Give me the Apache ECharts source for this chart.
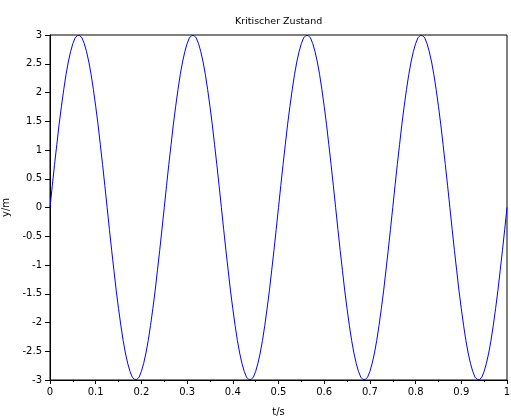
<!DOCTYPE html>
<html>
<head>
<meta charset="utf-8">
<script src="https://cdn.jsdelivr.net/npm/echarts@6/dist/echarts.min.js"></script>
<style>html,body{margin:0;padding:0;background:#fff;}#c{width:511px;height:418px;}</style>
</head>
<body>
<div id="c"></div>
<script>
const title = 'Kritischer Zustand';
const xName = 't/s';
const yName = 'y/m';
const T_START = 0;
const T_STEP = 0.005;
const yValues = [
  0, 0.38, 0.75, 1.10, 1.45, 1.76, 2.05, 2.31, 2.53, 2.71, 2.85, 2.95, 2.99, 2.99, 2.95, 2.85, 2.71, 2.53, 2.31, 2.05, 1.76, 1.45, 1.10, 0.75, 0.38,
  0, -0.38, -0.75, -1.10, -1.45, -1.76, -2.05, -2.31, -2.53, -2.71, -2.85, -2.95, -2.99, -2.99, -2.95, -2.85, -2.71, -2.53, -2.31, -2.05, -1.76, -1.45, -1.10, -0.75, -0.38,
  0, 0.38, 0.75, 1.10, 1.45, 1.76, 2.05, 2.31, 2.53, 2.71, 2.85, 2.95, 2.99, 2.99, 2.95, 2.85, 2.71, 2.53, 2.31, 2.05, 1.76, 1.45, 1.10, 0.75, 0.38,
  0, -0.38, -0.75, -1.10, -1.45, -1.76, -2.05, -2.31, -2.53, -2.71, -2.85, -2.95, -2.99, -2.99, -2.95, -2.85, -2.71, -2.53, -2.31, -2.05, -1.76, -1.45, -1.10, -0.75, -0.38,
  0, 0.38, 0.75, 1.10, 1.45, 1.76, 2.05, 2.31, 2.53, 2.71, 2.85, 2.95, 2.99, 2.99, 2.95, 2.85, 2.71, 2.53, 2.31, 2.05, 1.76, 1.45, 1.10, 0.75, 0.38,
  0, -0.38, -0.75, -1.10, -1.45, -1.76, -2.05, -2.31, -2.53, -2.71, -2.85, -2.95, -2.99, -2.99, -2.95, -2.85, -2.71, -2.53, -2.31, -2.05, -1.76, -1.45, -1.10, -0.75, -0.38,
  0, 0.38, 0.75, 1.10, 1.45, 1.76, 2.05, 2.31, 2.53, 2.71, 2.85, 2.95, 2.99, 2.99, 2.95, 2.85, 2.71, 2.53, 2.31, 2.05, 1.76, 1.45, 1.10, 0.75, 0.38,
  0, -0.38, -0.75, -1.10, -1.45, -1.76, -2.05, -2.31, -2.53, -2.71, -2.85, -2.95, -2.99, -2.99, -2.95, -2.85, -2.71, -2.53, -2.31, -2.05, -1.76, -1.45, -1.10, -0.75, -0.38,
  0
];
const seriesData = yValues.map((y, i) => [+(T_START + i * T_STEP).toFixed(4), y]);

const font = 'DejaVu Sans';
const chart = echarts.init(document.getElementById('c'), null, {renderer: 'canvas'});
chart.setOption({
  animation: false,
  backgroundColor: '#fff',
  title: {
    text: title, left: 230, top: 12,
    textStyle: {fontFamily: font, fontSize: 9.5, fontWeight: 'normal', color: '#000'}
  },
  grid: {
    left: 50, right: 4, top: 35, bottom: 38,
    containLabel: false, outerBoundsMode: 'none',
    show: true, borderColor: '#000', borderWidth: 1, backgroundColor: 'transparent'
  },
  xAxis: {
    type: 'value', min: 0, max: 1, interval: 0.1,
    name: xName, nameLocation: 'middle', nameGap: 27,
    nameTextStyle: {fontFamily: font, fontSize: 10, color: '#000'},
    axisLine: {show: true, onZero: false, lineStyle: {color: '#000', width: 1}},
    axisTick: {show: true, inside: false, length: 4, lineStyle: {color: '#000'}},
    minorTick: {show: true, splitNumber: 2, length: 2, lineStyle: {color: '#000'}},
    axisLabel: {fontFamily: font, fontSize: 10, color: '#000', margin: 7,
      formatter: v => String(+v.toFixed(1))},
    splitLine: {show: false}
  },
  yAxis: {
    type: 'value', min: -3, max: 3, interval: 0.5,
    name: yName, nameLocation: 'middle', nameGap: 37,
    nameTextStyle: {fontFamily: font, fontSize: 10, color: '#000'},
    axisLine: {show: true, onZero: false, lineStyle: {color: '#000', width: 1}},
    axisTick: {show: true, inside: false, length: 5, lineStyle: {color: '#000'}},
    axisLabel: {fontFamily: font, fontSize: 10, color: '#000', margin: 8,
      formatter: v => String(+v.toFixed(1))},
    splitLine: {show: false}
  },
  series: [{
    type: 'line', data: seriesData, showSymbol: false, symbol: 'none',
    lineStyle: {color: '#0000ff', width: 1}, smooth: false, clip: true
  }]
});
</script>
</body>
</html>
